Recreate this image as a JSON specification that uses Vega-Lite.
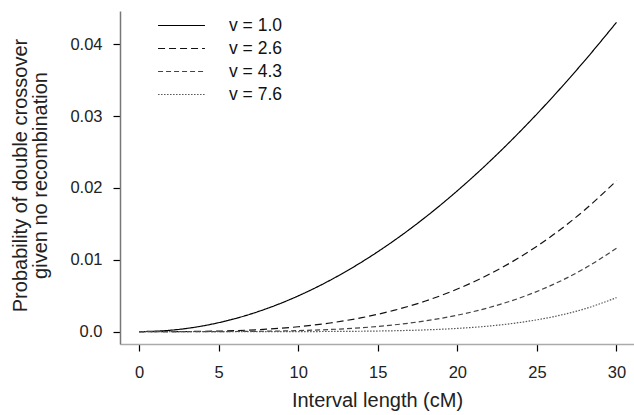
{
  "$schema": "https://vega.github.io/schema/vega-lite/v6.json",
  "width": 514,
  "height": 333,
  "autosize": {"type": "none"},
  "padding": {"left": 120, "top": 11, "right": 0, "bottom": 71},
  "background": "white",
  "config": {
    "view": {"stroke": null},
    "font": "Liberation Sans",
    "axis": {"labelFont": "Liberation Sans", "titleFont": "Liberation Sans", "labelColor": "#222", "titleColor": "#222", "grid": false}
  },
  "data": {"values": [
    {"x": 0, "y": 0, "v": "v = 1.0"},
    {"x": 2, "y": 0.00019996, "v": "v = 1.0"},
    {"x": 4, "y": 0.00079936, "v": "v = 1.0"},
    {"x": 6, "y": 0.00179676, "v": "v = 1.0"},
    {"x": 8, "y": 0.00318976, "v": "v = 1.0"},
    {"x": 10, "y": 0.004975, "v": "v = 1.0"},
    {"x": 12, "y": 0.0071485, "v": "v = 1.0"},
    {"x": 14, "y": 0.0097047, "v": "v = 1.0"},
    {"x": 16, "y": 0.012638, "v": "v = 1.0"},
    {"x": 18, "y": 0.015941, "v": "v = 1.0"},
    {"x": 20, "y": 0.019607, "v": "v = 1.0"},
    {"x": 22, "y": 0.023626, "v": "v = 1.0"},
    {"x": 24, "y": 0.02799, "v": "v = 1.0"},
    {"x": 26, "y": 0.03269, "v": "v = 1.0"},
    {"x": 28, "y": 0.037714, "v": "v = 1.0"},
    {"x": 30, "y": 0.043051, "v": "v = 1.0"},
    {"x": 0, "y": 0, "v": "v = 2.6"},
    {"x": 2, "y": 0.0000045, "v": "v = 2.6"},
    {"x": 4, "y": 0.0000391, "v": "v = 2.6"},
    {"x": 6, "y": 0.0001385, "v": "v = 2.6"},
    {"x": 8, "y": 0.0003397, "v": "v = 2.6"},
    {"x": 10, "y": 0.0006818, "v": "v = 2.6"},
    {"x": 12, "y": 0.0012041, "v": "v = 2.6"},
    {"x": 14, "y": 0.0019475, "v": "v = 2.6"},
    {"x": 16, "y": 0.002954, "v": "v = 2.6"},
    {"x": 18, "y": 0.004266, "v": "v = 2.6"},
    {"x": 20, "y": 0.005927, "v": "v = 2.6"},
    {"x": 22, "y": 0.007979, "v": "v = 2.6"},
    {"x": 24, "y": 0.010469, "v": "v = 2.6"},
    {"x": 26, "y": 0.013437, "v": "v = 2.6"},
    {"x": 28, "y": 0.016934, "v": "v = 2.6"},
    {"x": 30, "y": 0.021, "v": "v = 2.6"},
    {"x": 0, "y": 0, "v": "v = 4.3"},
    {"x": 2, "y": 0.00000023, "v": "v = 4.3"},
    {"x": 4, "y": 0.00000367, "v": "v = 4.3"},
    {"x": 6, "y": 0.00001856, "v": "v = 4.3"},
    {"x": 8, "y": 0.0000587, "v": "v = 4.3"},
    {"x": 10, "y": 0.0001432, "v": "v = 4.3"},
    {"x": 12, "y": 0.000297, "v": "v = 4.3"},
    {"x": 14, "y": 0.0005502, "v": "v = 4.3"},
    {"x": 16, "y": 0.0009385, "v": "v = 4.3"},
    {"x": 18, "y": 0.0015034, "v": "v = 4.3"},
    {"x": 20, "y": 0.0022914, "v": "v = 4.3"},
    {"x": 22, "y": 0.0033548, "v": "v = 4.3"},
    {"x": 24, "y": 0.0047514, "v": "v = 4.3"},
    {"x": 26, "y": 0.0065443, "v": "v = 4.3"},
    {"x": 28, "y": 0.0088025, "v": "v = 4.3"},
    {"x": 30, "y": 0.0116, "v": "v = 4.3"},
    {"x": 0, "y": 0, "v": "v = 7.6"},
    {"x": 2, "y": 0, "v": "v = 7.6"},
    {"x": 4, "y": 0.00000004, "v": "v = 7.6"},
    {"x": 6, "y": 0.00000042, "v": "v = 7.6"},
    {"x": 8, "y": 0.00000222, "v": "v = 7.6"},
    {"x": 10, "y": 0.00000809, "v": "v = 7.6"},
    {"x": 12, "y": 0.0000233, "v": "v = 7.6"},
    {"x": 14, "y": 0.0000569, "v": "v = 7.6"},
    {"x": 16, "y": 0.0001234, "v": "v = 7.6"},
    {"x": 18, "y": 0.0002444, "v": "v = 7.6"},
    {"x": 20, "y": 0.0004503, "v": "v = 7.6"},
    {"x": 22, "y": 0.0007828, "v": "v = 7.6"},
    {"x": 24, "y": 0.0012965, "v": "v = 7.6"},
    {"x": 26, "y": 0.0020626, "v": "v = 7.6"},
    {"x": 28, "y": 0.0031702, "v": "v = 7.6"},
    {"x": 30, "y": 0.00473, "v": "v = 7.6"}
  ]},
  "mark": {"type": "line", "interpolate": "monotone"},
  "encoding": {
    "x": {
      "field": "x", "type": "quantitative",
      "scale": {"domain": [-1.2, 31.1], "nice": false, "zero": false},
      "axis": {
        "values": [0, 5, 10, 15, 20, 25, 30],
        "title": "Interval length (cM)",
        "titleFontSize": 20, "titleFontWeight": "normal",
        "labelFontSize": 16.5, "labelPadding": 13,
        "titlePadding": 10,
        "domainColor": "#aaa", "domainWidth": 1.5,
        "tickColor": "#000", "tickSize": 7, "tickWidth": 1.2
      }
    },
    "y": {
      "field": "y", "type": "quantitative",
      "scale": {"domain": [-0.00172, 0.04463], "nice": false, "zero": false},
      "axis": {
        "values": [0, 0.01, 0.02, 0.03, 0.04],
        "labelExpr": "datum.value == 0 ? '0.0' : format(datum.value, '.2f')",
        "title": ["Probability of double crossover", "given no recombination"],
        "titleFontSize": 20, "titleFontWeight": "normal",
        "titleLineHeight": 20.5,
        "titleAngle": 270,
        "titleX": -110, "titleY": 164,
        "titleBaseline": "top", "titleAlign": "center",
        "labelFontSize": 16.5, "labelPadding": 11,
        "domainColor": "#777", "domainWidth": 1.5,
        "tickColor": "#000", "tickSize": 7, "tickWidth": 1.2
      }
    },
    "stroke": {
      "field": "v", "type": "nominal",
      "scale": {"domain": ["v = 1.0", "v = 2.6", "v = 4.3", "v = 7.6"], "range": ["#000000", "#111111", "#444444", "#555555"]},
      "legend": {
        "title": null, "orient": "none", "legendX": 37, "legendY": 3,
        "symbolType": "stroke", "symbolSize": 2200, "clipHeight": 23,
        "rowPadding": 0, "labelOffset": 23,
        "labelFontSize": 17.5, "labelFont": "Liberation Sans", "labelColor": "#111",
        "symbolStrokeWidth": 1.2
      }
    },
    "strokeDash": {
      "field": "v", "type": "nominal",
      "scale": {"domain": ["v = 1.0", "v = 2.6", "v = 4.3", "v = 7.6"], "range": [[1, 0], [7, 4], [5, 3], [1.5, 1.5]]},
      "legend": null
    },
    "strokeWidth": {
      "field": "v", "type": "nominal",
      "scale": {"domain": ["v = 1.0", "v = 2.6", "v = 4.3", "v = 7.6"], "range": [1.2, 1.2, 1, 1]},
      "legend": null
    }
  }
}
